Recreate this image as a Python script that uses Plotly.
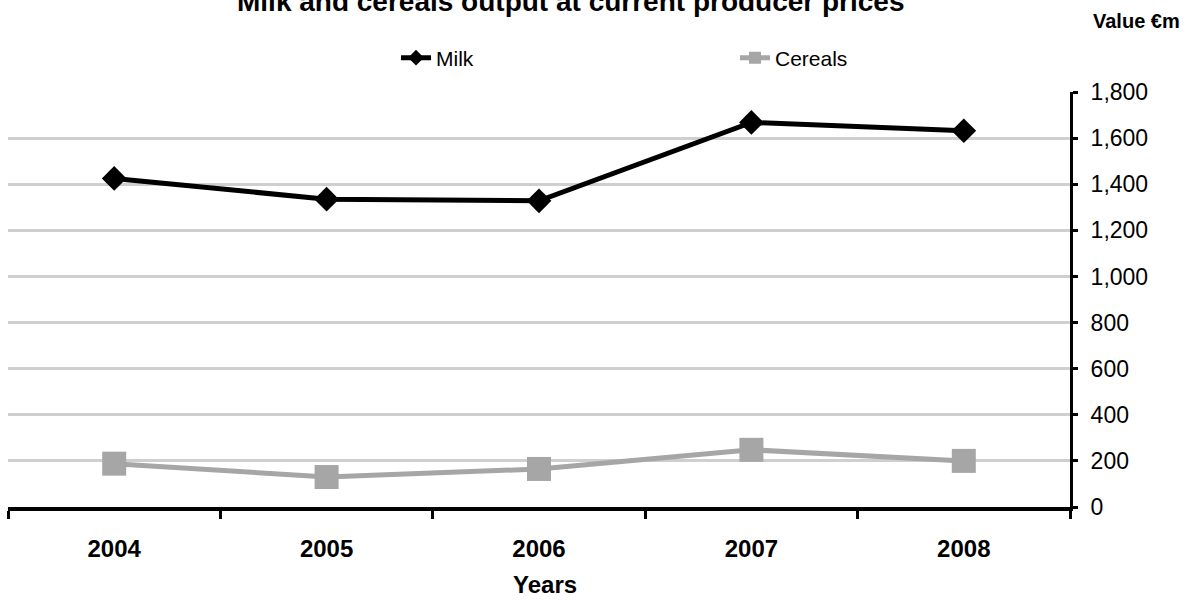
import plotly.graph_objects as go

years = ["2004", "2005", "2006", "2007", "2008"]
milk = [1425, 1335, 1328, 1668, 1632]
cereals = [188, 130, 165, 248, 200]
y_ticks = [0, 200, 400, 600, 800, 1000, 1200, 1400, 1600, 1800]

FONT = "Arial, Liberation Sans, sans-serif"
W, H = 1188, 600
ML, MR, MT, MB = 8, 118, 92, 93
PW, PH = W - ML - MR, H - MT - MB


def px_x(px):
    return (px - ML) / PW


def px_y(py):
    return (H - MB - py) / PH


fig = go.Figure()
fig.add_trace(go.Scatter(
    x=years, y=milk, name="Milk", mode="lines+markers",
    line=dict(color="black", width=5),
    marker=dict(symbol="diamond", size=19, color="black"),
    legend="legend",
))
fig.add_trace(go.Scatter(
    x=years, y=cereals, name="Cereals", mode="lines+markers",
    line=dict(color="#a6a6a6", width=5),
    marker=dict(symbol="square", size=24, color="#a6a6a6"),
    legend="legend2",
))

fig.update_layout(
    width=W, height=H,
    margin=dict(l=ML, r=MR, t=MT, b=MB, autoexpand=False),
    paper_bgcolor="white", plot_bgcolor="white",
    font=dict(family=FONT, color="black", size=21),
    showlegend=True,
    legend=dict(orientation="h", x=px_x(396), xanchor="left",
                y=px_y(58), yanchor="middle",
                font=dict(size=21), itemsizing="constant"),
    legend2=dict(orientation="h", x=px_x(735), xanchor="left",
                 y=px_y(58), yanchor="middle",
                 font=dict(size=21), itemsizing="constant"),
    xaxis=dict(
        type="category", tickson="boundaries", automargin=False,
        showline=True, linecolor="black", linewidth=4,
        ticks="outside", ticklen=8, tickwidth=3, tickcolor="black",
        tickfont=dict(size=24, family=FONT, weight="bold"),
        ticklabelstandoff=17,
        showgrid=False, zeroline=False,
        range=[-0.5, 4.5],
    ),
    yaxis=dict(
        side="right", range=[0, 1800], tickvals=y_ticks, tickformat=",",
        automargin=False,
        showline=True, linecolor="black", linewidth=3,
        ticks="outside", ticklen=5, tickwidth=3, tickcolor="black",
        showgrid=True, gridcolor="#cfcfcf", gridwidth=3,
        zeroline=False, tickfont=dict(size=23), ticklabelstandoff=8,
    ),
    annotations=[
        dict(text="<b>Milk and cereals output at current producer prices</b>",
             x=px_x(571), y=px_y(2), xref="paper", yref="paper",
             xanchor="center", yanchor="middle", showarrow=False,
             font=dict(size=28)),
        dict(text="<b>Value €m</b>",
             x=px_x(1136), y=px_y(21), xref="paper", yref="paper",
             xanchor="center", yanchor="middle", showarrow=False,
             font=dict(size=20)),
        dict(text="<b>Years</b>",
             x=px_x(545), y=px_y(600), xref="paper", yref="paper",
             xanchor="center", yanchor="bottom", showarrow=False,
             font=dict(size=24)),
    ],
)

fig.write_html("out.html")
